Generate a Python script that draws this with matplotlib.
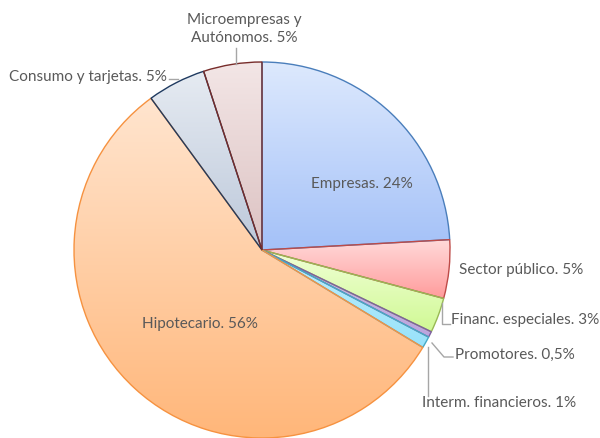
import numpy as np
import matplotlib
matplotlib.use("Agg")
import matplotlib.pyplot as plt
from matplotlib.colors import LinearSegmentedColormap

categories = ["Empresas", "Sector público", "Financ. especiales", "Promotores",
              "Interm. financieros", "Hipotecario", "Consumo y tarjetas",
              "Microempresas y\nAutónomos"]
values = [24, 5, 3, 0.5, 1, 56, 5, 5]
value_labels = ["24%", "5%", "3%", "0,5%", "1%", "56%", "5%", "5%"]

top_colors = ["#dde9fd", "#ffdada", "#f0ffd6", "#d2c2ea", "#c0f0fd", "#ffe5cf", "#e6ebf2", "#f3e6e6"]
bot_colors = ["#a4c1f8", "#ff9c9c", "#d0f994", "#bba4de", "#98e2fa", "#ffb679", "#bcc8da", "#dcc2c2"]
edge_colors = ["#4a7ebb", "#be4b48", "#98b954", "#7d60a0", "#46aac5", "#f69240", "#1f3a60", "#772c2a"]

W, H = 600, 438
fig = plt.figure(figsize=(6, 4.38), dpi=100)
ax = fig.add_axes([0, 0, 1, 1])

def Y(yp):
    return H - yp

cx, cy, R = 262, 250, 188
wedges, _ = ax.pie(values, startangle=90, counterclock=False, radius=R,
                   center=(cx, Y(cy)), frame=True,
                   wedgeprops=dict(linewidth=1.0))

grad = np.linspace(0, 1, 256).reshape(-1, 1)
for w, tc, bc, ec in zip(wedges, top_colors, bot_colors, edge_colors):
    w.set_facecolor("none")
    w.set_edgecolor(ec)
    w.set_zorder(3)
    verts = w.get_path().vertices
    x0, x1 = verts[:, 0].min(), verts[:, 0].max()
    y0, y1 = verts[:, 1].min(), verts[:, 1].max()
    cmap = LinearSegmentedColormap.from_list("g", [bc, tc])
    im = ax.imshow(grad, cmap=cmap, extent=(x0, x1, y0, y1), origin="lower",
                   aspect="auto", zorder=2, interpolation="bilinear")
    im.set_clip_path(w)
ax.set_xlim(0, W)
ax.set_ylim(0, H)
ax.axis("off")

tc_ = "#595959"
fs = 11
fam = ["Lato", "DejaVu Sans"]
lc = "#a6a6a6"

def lab(i, x, y, ha="center"):
    ax.text(x, Y(y), f"{categories[i]}. {value_labels[i]}", ha=ha, va="center",
            fontsize=fs, color=tc_, family=fam, zorder=5, linespacing=1.4)

lab(0, 362, 184)
lab(1, 459, 270, ha="left")
lab(2, 451, 320, ha="left")
lab(3, 455, 355, ha="left")
lab(4, 422, 403, ha="left")
lab(5, 200, 324)
lab(6, 167, 77, ha="right")
lab(7, 244, 29)

def leader(xs, ys):
    ax.plot(xs, [Y(v) for v in ys], color=lc, lw=1.0, zorder=4)

leader([236, 236], [48, 64])
leader([169, 178], [79, 79])
leader([442, 442, 450], [303, 324, 324])
leader([432, 444, 453], [343, 357, 357])
leader([428, 428], [347, 396])

fig.savefig("out.png", dpi=100)
